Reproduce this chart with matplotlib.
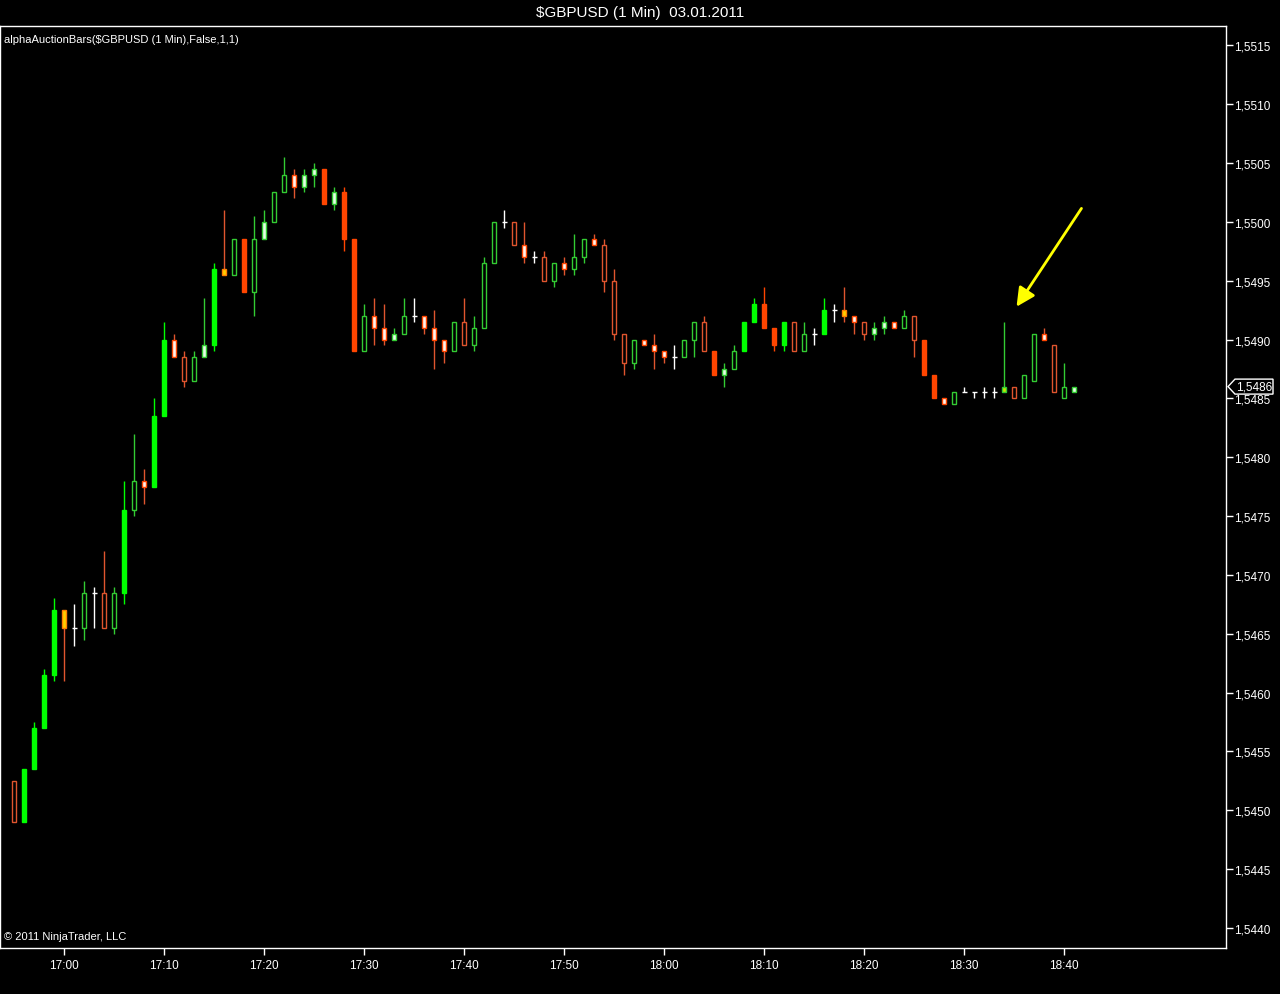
import matplotlib
matplotlib.use("Agg")
import matplotlib.pyplot as plt
from matplotlib.patches import Polygon
from matplotlib.transforms import blended_transform_factory
import numpy as np

plt.rcParams['font.family'] = ['Liberation Sans', 'DejaVu Sans']

# 1 minute bars, 16:55 .. 18:41
opens = [1.54525, 1.54490, 1.54535, 1.54570, 1.54615, 1.54670, 1.54655, 1.54655, 1.54685, 1.54685,
         1.54655, 1.54685, 1.54755, 1.54780, 1.54775, 1.54835, 1.54900, 1.54885, 1.54865, 1.54885,
         1.54895, 1.54960, 1.54955, 1.54985, 1.54940, 1.54985, 1.55000, 1.55025, 1.55040, 1.55030,
         1.55040, 1.55045, 1.55015, 1.55025, 1.54985, 1.54890, 1.54920, 1.54910, 1.54900, 1.54905,
         1.54920, 1.54920, 1.54910, 1.54900, 1.54890, 1.54915, 1.54895, 1.54910, 1.54965, 1.55000,
         1.55000, 1.54980, 1.54970, 1.54970, 1.54950, 1.54965, 1.54960, 1.54970, 1.54985, 1.54980,
         1.54950, 1.54905, 1.54880, 1.54900, 1.54895, 1.54890, 1.54885, 1.54885, 1.54900, 1.54915,
         1.54890, 1.54870, 1.54875, 1.54890, 1.54915, 1.54930, 1.54910, 1.54895, 1.54915, 1.54890,
         1.54905, 1.54905, 1.54925, 1.54925, 1.54920, 1.54915, 1.54905, 1.54910, 1.54915, 1.54910,
         1.54920, 1.54900, 1.54870, 1.54850, 1.54845, 1.54855, 1.54855, 1.54855, 1.54855, 1.54855,
         1.54860, 1.54850, 1.54865, 1.54905, 1.54895, 1.54850, 1.54855]
highs = [1.54525, 1.54535, 1.54575, 1.54620, 1.54680, 1.54670, 1.54675, 1.54695, 1.54690, 1.54720,
         1.54690, 1.54780, 1.54820, 1.54790, 1.54850, 1.54915, 1.54905, 1.54890, 1.54890, 1.54935,
         1.54965, 1.55010, 1.54985, 1.54985, 1.55005, 1.55010, 1.55025, 1.55055, 1.55045, 1.55045,
         1.55050, 1.55045, 1.55030, 1.55030, 1.54985, 1.54930, 1.54935, 1.54930, 1.54910, 1.54935,
         1.54935, 1.54920, 1.54925, 1.54900, 1.54915, 1.54935, 1.54920, 1.54970, 1.55000, 1.55010,
         1.55000, 1.55000, 1.54975, 1.54975, 1.54965, 1.54970, 1.54990, 1.54985, 1.54990, 1.54985,
         1.54960, 1.54905, 1.54900, 1.54900, 1.54905, 1.54890, 1.54895, 1.54900, 1.54915, 1.54920,
         1.54890, 1.54880, 1.54895, 1.54915, 1.54935, 1.54945, 1.54910, 1.54915, 1.54915, 1.54915,
         1.54910, 1.54935, 1.54930, 1.54945, 1.54920, 1.54915, 1.54915, 1.54920, 1.54915, 1.54925,
         1.54920, 1.54900, 1.54870, 1.54850, 1.54855, 1.54860, 1.54855, 1.54860, 1.54860, 1.54915,
         1.54860, 1.54870, 1.54905, 1.54910, 1.54895, 1.54880, 1.54860]
lows = [1.54490, 1.54490, 1.54535, 1.54570, 1.54610, 1.54610, 1.54640, 1.54645, 1.54655, 1.54655,
        1.54650, 1.54675, 1.54750, 1.54760, 1.54775, 1.54835, 1.54885, 1.54860, 1.54865, 1.54885,
        1.54890, 1.54955, 1.54955, 1.54940, 1.54920, 1.54985, 1.55000, 1.55025, 1.55020, 1.55025,
        1.55030, 1.55015, 1.55010, 1.54975, 1.54890, 1.54890, 1.54895, 1.54895, 1.54900, 1.54905,
        1.54915, 1.54905, 1.54875, 1.54880, 1.54890, 1.54895, 1.54890, 1.54910, 1.54965, 1.54995,
        1.54980, 1.54965, 1.54965, 1.54950, 1.54945, 1.54955, 1.54955, 1.54965, 1.54980, 1.54940,
        1.54900, 1.54870, 1.54875, 1.54895, 1.54875, 1.54880, 1.54875, 1.54885, 1.54885, 1.54890,
        1.54870, 1.54860, 1.54875, 1.54890, 1.54915, 1.54910, 1.54890, 1.54890, 1.54890, 1.54890,
        1.54895, 1.54905, 1.54915, 1.54915, 1.54905, 1.54900, 1.54900, 1.54905, 1.54910, 1.54910,
        1.54885, 1.54870, 1.54850, 1.54845, 1.54845, 1.54855, 1.54850, 1.54850, 1.54850, 1.54855,
        1.54850, 1.54850, 1.54865, 1.54900, 1.54855, 1.54850, 1.54855]
closes = [1.54490, 1.54535, 1.54570, 1.54615, 1.54670, 1.54655, 1.54655, 1.54685, 1.54685, 1.54655,
          1.54685, 1.54755, 1.54780, 1.54775, 1.54835, 1.54900, 1.54885, 1.54865, 1.54885, 1.54895,
          1.54960, 1.54955, 1.54985, 1.54940, 1.54985, 1.55000, 1.55025, 1.55040, 1.55030, 1.55040,
          1.55045, 1.55015, 1.55025, 1.54985, 1.54890, 1.54920, 1.54910, 1.54900, 1.54905, 1.54920,
          1.54920, 1.54910, 1.54900, 1.54890, 1.54915, 1.54895, 1.54910, 1.54965, 1.55000, 1.55000,
          1.54980, 1.54970, 1.54970, 1.54950, 1.54965, 1.54960, 1.54970, 1.54985, 1.54980, 1.54950,
          1.54905, 1.54880, 1.54900, 1.54895, 1.54890, 1.54885, 1.54885, 1.54900, 1.54915, 1.54890,
          1.54870, 1.54875, 1.54890, 1.54915, 1.54930, 1.54910, 1.54895, 1.54915, 1.54890, 1.54905,
          1.54905, 1.54925, 1.54925, 1.54920, 1.54915, 1.54905, 1.54910, 1.54915, 1.54910, 1.54920,
          1.54900, 1.54870, 1.54850, 1.54845, 1.54855, 1.54855, 1.54855, 1.54855, 1.54855, 1.54860,
          1.54850, 1.54870, 1.54905, 1.54900, 1.54855, 1.54860, 1.54860]
# bar style per candle (auction bar colouring)
kinds = "rGGGGydgdrgGgwGGwrglGygRglggwllRlRRgwwlgdwwwgrgggdrwdrgwggwrrrgwwwdggrRlgGGRRGrgdGdywrllwgrRRwgddddYrggwrgl"

first_tick_index = 5   # 17:00 is the 6th bar
tick_labels = ["17:00", "17:10", "17:20", "17:30", "17:40", "17:50",
               "18:00", "18:10", "18:20", "18:30", "18:40"]
last_price = 1.5486

styles = {
    'G': ('#00FF00', '#00FF00', '#00FF00'),
    'g': ('black', '#33CC33', '#33CC33'),
    'R': ('#FF4500', '#FF4500', '#FF4500'),
    'r': ('black', '#E0552E', '#E0552E'),
    'w': ('#FFF4EC', '#FF4500', '#E0552E'),
    'l': ('#E6FFE6', '#33CC33', '#33CC33'),
    'y': ('#FFD000', '#FF7F00', '#E0552E'),
    'Y': ('#C8E600', '#33CC33', '#33CC33'),
}

fig = plt.figure(figsize=(12.8, 9.95), dpi=100, facecolor='black')
ax = fig.add_axes([0, 1 - 949 / 995, 1226 / 1280, (949 - 27) / 995])
ax.set_facecolor('black')

x = np.arange(len(opens))
for i in x:
    o, h, l, c, k = opens[i], highs[i], lows[i], closes[i], kinds[i]
    if k == 'd':
        ax.vlines(i, l, h, color='white', lw=1)
        ax.hlines(o, i - 0.25, i + 0.25, color='white', lw=1)
        continue
    face, edge, wick = styles[k]
    ax.vlines(i, l, h, color=wick, lw=1, zorder=1)
    ax.bar(i, abs(c - o), bottom=min(o, c), width=0.45, color=face,
           edgecolor=edge, linewidth=1, zorder=2)

ax.set_xlim(-1.4, 121.2)
ax.set_ylim(1.543830, 1.551664)

yt = np.arange(1.5440, 1.55151, 0.0005)
ax.set_yticks(yt)
ax.set_yticklabels([f"{v:.4f}".replace('.', ',') for v in yt])
ax.yaxis.tick_right()
ax.set_xticks(np.arange(len(tick_labels)) * 10 + first_tick_index)
ax.set_xticklabels(tick_labels)
ax.tick_params(colors='white', labelsize=8.5, length=5, width=1, direction='out')
ax.tick_params(axis='y', pad=1)
ax.tick_params(axis='x', pad=3)

for s in ax.spines.values():
    s.set_color('white')
    s.set_linewidth(1)

fig.text(0.5, 1 - 13 / 995, "$GBPUSD (1 Min)  03.01.2011", color='white',
         ha='center', va='center', fontsize=11)
ax.text(0.003, 0.986, "alphaAuctionBars($GBPUSD (1 Min),False,1,1)", transform=ax.transAxes,
        color='white', fontsize=8, ha='left', va='center')
ax.text(0.003, 0.008, "© 2011 NinjaTrader, LLC", transform=ax.transAxes,
        color='white', fontsize=8, ha='left', va='bottom')

# yellow arrow pointing at the spike bar
ax.annotate("", xy=(100.1, 1.549259), xytext=(106.9, 1.550134),
            arrowprops=dict(arrowstyle='-|>', color='yellow', lw=2, mutation_scale=28))

# last price marker on the right axis
tr = blended_transform_factory(fig.transFigure, ax.transData)
hh = 7.5 / 117700
pts = [(1228 / 1280, last_price), (1235 / 1280, last_price + hh), (1273 / 1280, last_price + hh),
       (1273 / 1280, last_price - hh), (1235 / 1280, last_price - hh)]
fig.add_artist(Polygon(pts, closed=True, facecolor='black', edgecolor='white', lw=1,
                       transform=tr, clip_on=False))
fig.text(1254 / 1280, last_price, f"{last_price:.4f}".replace('.', ','), transform=tr,
         color='white', fontsize=8.5, ha='center', va='center')

fig.savefig("out.png", dpi=100, facecolor='black')
